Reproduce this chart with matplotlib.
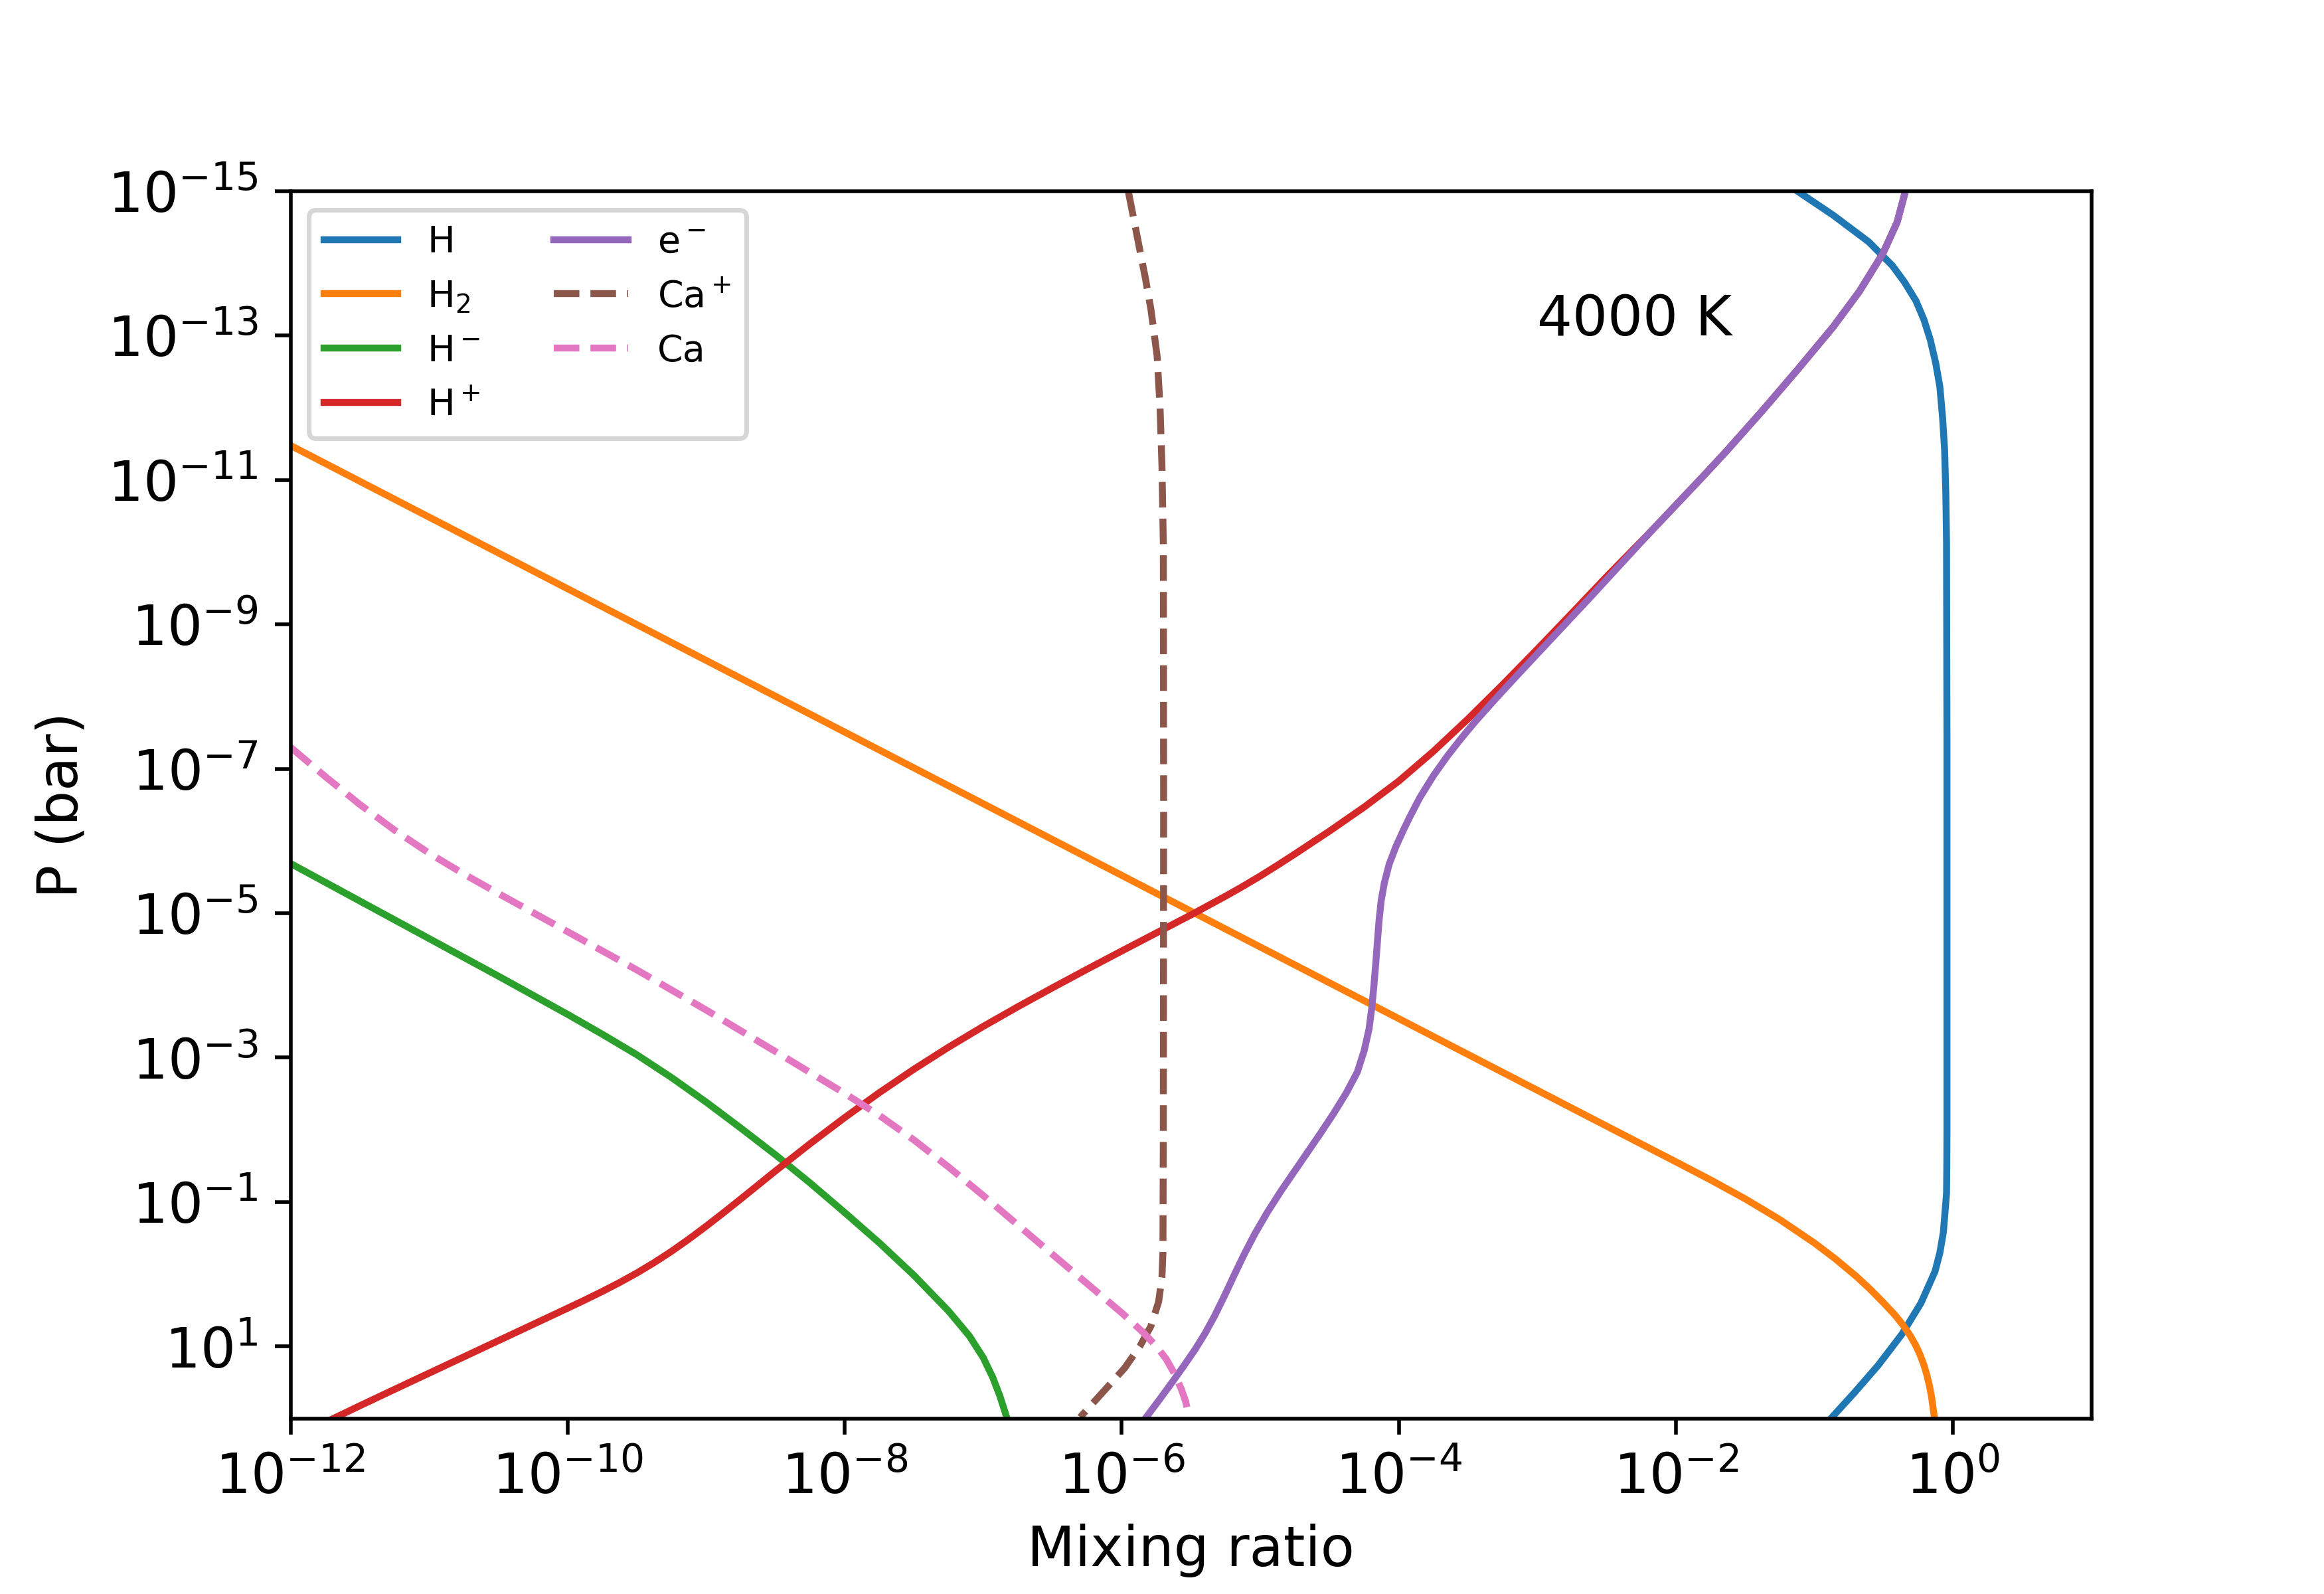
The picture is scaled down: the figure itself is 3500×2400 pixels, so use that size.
import numpy as np
import matplotlib
matplotlib.use("Agg")
import matplotlib.pyplot as plt
from matplotlib.ticker import FixedLocator, NullLocator, LogFormatterMathtext

# ---- data: log10(mixing ratio) and log10(P / bar) ----
H_logx = [-1.122, -0.866, -0.609, -0.438, -0.35, -0.267, -0.21, -0.164, -0.125, -0.095,
          -0.075, -0.061, -0.052, -0.047, -0.044, -0.044, -0.045, -0.047, -0.07, -0.095,
          -0.13, -0.232, -0.369, -0.54, -0.712, -0.883]
H_logp = [-15.0, -14.67, -14.30, -13.97, -13.74, -13.48, -13.22, -12.94, -12.62, -12.29,
          -11.85, -11.42, -10.8, -10.12, -7.41, -1.99, -1.5, -1.12, -0.58, -0.30,
          -0.04, 0.40, 0.83, 1.26, 1.64, 2.0]

H2_logx = [-12.0, -6.207, -2.458, -2.0, -1.75, -1.5, -1.25, -1.0, -0.85, -0.7,
           -0.6, -0.5, -0.42, -0.36, -0.31, -0.27, -0.24, -0.21, -0.19, -0.17,
           -0.155, -0.14, -0.133]
H2_logp = [-11.48, -5.73, -2.01, -1.557, -1.307, -1.044, -0.757, -0.432, -0.214, 0.026,
           0.204, 0.399, 0.563, 0.707, 0.847, 0.983, 1.106, 1.259, 1.389, 1.549,
           1.699, 1.909, 2.0]

Hm_logx = [-12.0, -11.75, -11.5, -11.25, -11.0, -10.75, -10.5, -10.25, -10.0, -9.75,
           -9.5, -9.25, -9.0, -8.75, -8.5, -8.25, -8.0, -7.75, -7.5, -7.25,
           -7.1, -7.0, -6.93, -6.88, -6.83]
Hm_logp = [-5.69, -5.43, -5.17, -4.91, -4.65, -4.39, -4.13, -3.865, -3.60, -3.325,
           -3.04, -2.725, -2.385, -2.025, -1.655, -1.265, -0.855, -0.435, 0.015, 0.51,
           0.855, 1.155, 1.435, 1.685, 1.985]

Hp_logx = [-11.693, -11.5, -11.25, -11.0, -10.75, -10.5, -10.25, -10.0, -9.875, -9.75,
           -9.625, -9.5, -9.375, -9.25, -9.125, -9.0, -8.875, -8.75, -8.625, -8.5,
           -8.25, -8.0, -7.75, -7.5, -7.25, -7.0, -6.75, -6.5, -6.25, -6.0,
           -5.75, -5.5, -5.25, -5.125, -5.0, -4.875, -4.751, -4.5, -4.25, -4.0,
           -3.75, -3.5, -3.25, -3.0, -2.75, -2.5, -2.19, -1.81, -1.636, -1.379,
           -1.122, -0.866, -0.677, -0.506, -0.404, -0.344]
Hp_logp = [2.0, 1.822, 1.595, 1.37, 1.145, 0.92, 0.695, 0.47, 0.356, 0.2385,
           0.1148, -0.0177, -0.1615, -0.3178, -0.4865, -0.6653, -0.8515, -1.0428, -1.2365, -1.4303,
           -1.8078, -2.1703, -2.5153, -2.8403, -3.1453, -3.4328, -3.7053, -3.9678, -4.2253, -4.4778,
           -4.7278, -4.9778, -5.2378, -5.3741, -5.5166, -5.6666, -5.8204, -6.139, -6.4715, -6.8315,
           -7.244, -7.694, -8.169, -8.659, -9.159, -9.664, -10.27, -11.04, -11.40, -11.955,
           -12.53, -13.12, -13.61, -14.14, -14.57, -15.0]

e_logx = [-5.83, -5.72, -5.63, -5.55, -5.47, -5.40, -5.33, -5.26, -5.19, -5.12,
          -5.04, -4.95, -4.85, -4.70, -4.57, -4.47, -4.38, -4.30, -4.25, -4.215,
          -4.195, -4.18, -4.167, -4.155, -4.143, -4.128, -4.105, -4.07, -4.02, -3.97,
          -3.925, -3.85, -3.75, -3.65, -3.55, -3.45, -3.3, -3.15, -3.0, -2.8,
          -2.623, -2.19, -1.81, -1.636, -1.379, -1.122, -0.866, -0.677, -0.506, -0.404, -0.344]
e_logp = [1.997, 1.715, 1.479, 1.263, 1.039, 0.822, 0.577, 0.304, 0.017, -0.263,
          -0.559, -0.856, -1.156, -1.576, -1.94, -2.23, -2.51, -2.80, -3.10, -3.40,
          -3.70, -4.00, -4.30, -4.60, -4.90, -5.17, -5.42, -5.68, -5.93, -6.14,
          -6.32, -6.5975, -6.9075, -7.1775, -7.4225, -7.6525, -7.975, -8.287, -8.5945, -9.0045,
          -9.367, -10.27, -11.04, -11.40, -11.955, -12.53, -13.12, -13.61, -14.14, -14.57, -15.0]

Cap_logx = [-5.953, -5.911, -5.87, -5.828, -5.79, -5.745, -5.724, -5.71, -5.70, -5.698,
            -5.70, -5.703, -5.71, -5.734, -5.79, -5.87, -5.98, -6.14, -6.30]
Cap_logp = [-15.0, -14.59, -14.19, -13.78, -13.37, -12.72, -12.02, -11.2, -10.1, -6.5,
            -2.0, -0.30, 0.04, 0.38, 0.72, 1.0, 1.30, 1.64, 1.98]

Ca_logx = [-12.0, -11.75, -11.5, -11.25, -11.0, -10.75, -10.5, -10.0, -9.5, -9.0,
           -8.5, -8.0, -7.75, -7.5, -7.25, -7.0, -6.5, -6.0, -5.85, -5.75,
           -5.68, -5.62, -5.57, -5.54, -5.52, -5.51]
Ca_logp = [-7.30, -6.895, -6.5075, -6.1525, -5.8325, -5.545, -5.275, -4.745, -4.215, -3.66,
           -3.085, -2.505, -2.20, -1.86, -1.485, -1.09, -0.275, 0.535, 0.7975, 0.9975,
           1.1725, 1.3765, 1.5915, 1.7565, 1.9165, 2.0065]

labels = ['H', r'H$_2$', r'H$^-$', r'H$^+$', r'e$^-$', r'Ca$^+$', 'Ca']
styles = ['-', '-', '-', '-', '-', '--', '--']
colors = ['C0', 'C1', 'C2', 'C3', 'C4', 'C5', 'C6']

x_ticks = [1e-12, 1e-10, 1e-8, 1e-6, 1e-4, 1e-2, 1e0]
y_ticks = [1e-15, 1e-13, 1e-11, 1e-9, 1e-7, 1e-5, 1e-3, 1e-1, 1e1]

series = [(H_logx, H_logp), (H2_logx, H2_logp), (Hm_logx, Hm_logp), (Hp_logx, Hp_logp),
          (e_logx, e_logp), (Cap_logx, Cap_logp), (Ca_logx, Ca_logp)]

fig, ax = plt.subplots(figsize=(7, 4.8), dpi=500)
for (lx, lp), lab, ls, c in zip(series, labels, styles, colors):
    ax.plot(10.0 ** np.array(lx), 10.0 ** np.array(lp), ls, color=c, lw=1.5, label=lab)

ax.set_xscale('log')
ax.set_yscale('log')
ax.set_xlim(1e-12, 1e1)
ax.set_ylim(1e2, 1e-15)
ax.xaxis.set_major_locator(FixedLocator(x_ticks))
ax.yaxis.set_major_locator(FixedLocator(y_ticks))
ax.xaxis.set_major_formatter(LogFormatterMathtext())
ax.yaxis.set_major_formatter(LogFormatterMathtext())
ax.xaxis.set_minor_locator(NullLocator())
ax.yaxis.set_minor_locator(NullLocator())
ax.tick_params(labelsize=12)
ax.set_xlabel('Mixing ratio', fontsize=12)
ax.set_ylabel('P (bar)', fontsize=12)
ax.text(1e-3, 1e-13, '4000 K', fontsize=12)
ax.legend(ncol=2, loc='upper left', fontsize=8)

fig.savefig('out.png', dpi=500)
